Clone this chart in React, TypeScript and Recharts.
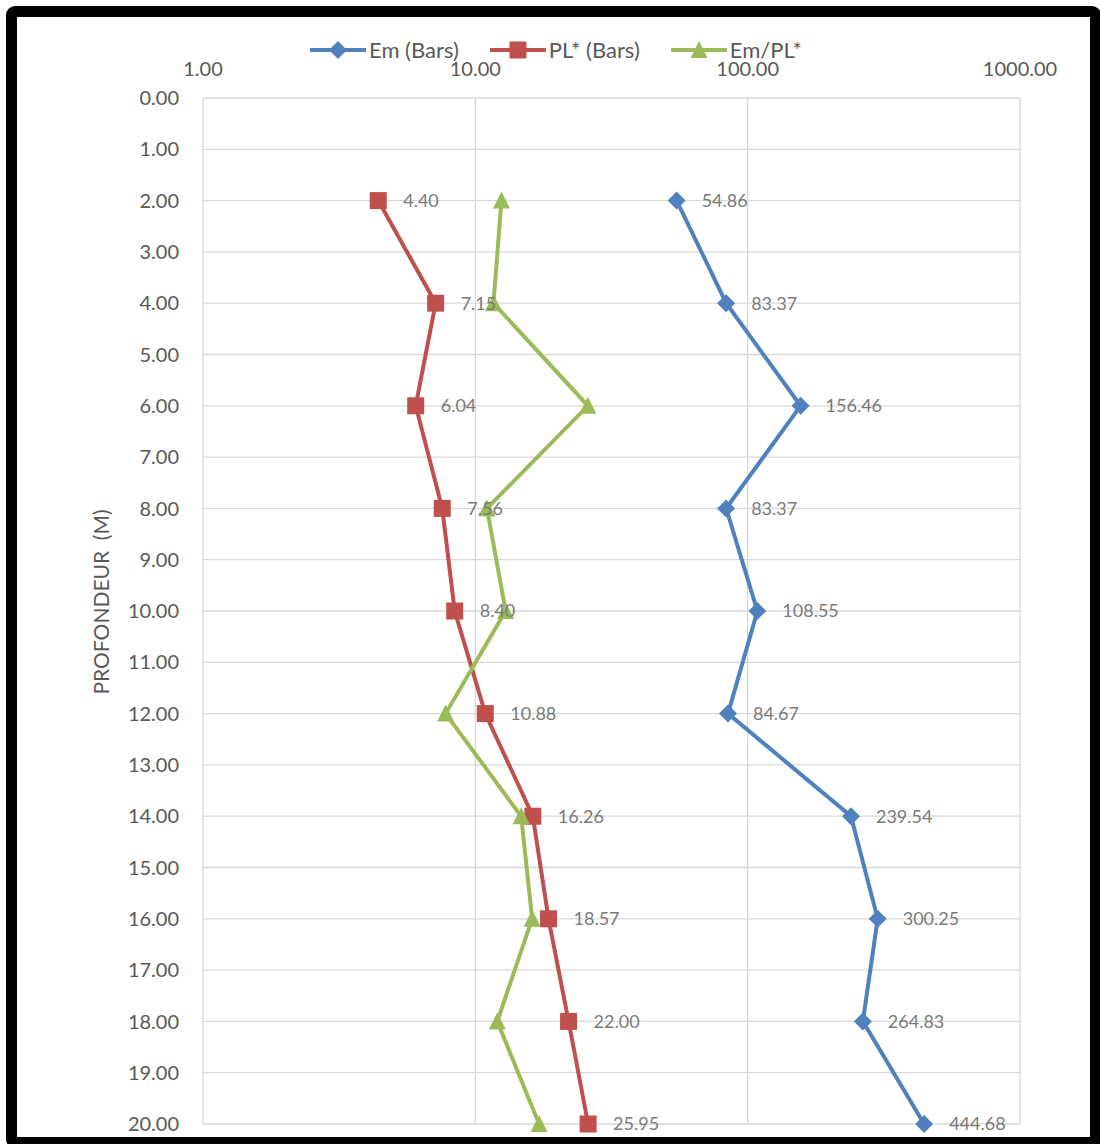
import React from "react"
import { LineChart, Line, XAxis, YAxis, CartesianGrid, Legend, LabelList } from "recharts"

// depth profile (m) and pressuremeter results
const depths = [2, 4, 6, 8, 10, 12, 14, 16, 18, 20]
const emValues = [54.86, 83.37, 156.46, 83.37, 108.55, 84.67, 239.54, 300.25, 264.83, 444.68]
const plValues = [4.4, 7.15, 6.04, 7.56, 8.4, 10.88, 16.26, 18.57, 22.0, 25.95]
const ratioValues = [12.47, 11.66, 25.9, 11.03, 12.92, 7.78, 14.73, 16.17, 12.04, 17.14]

const xTicks = [1, 10, 100, 1000]
const yTicks = [0, 1, 2, 3, 4, 5, 6, 7, 8, 9, 10, 11, 12, 13, 14, 15, 16, 17, 18, 19, 20]

const seriesNames = ["Em (Bars)", "PL* (Bars)", "Em/PL*"]

const BLUE = "#4f81bd"
const RED = "#c0504d"
const GREEN = "#9bbb59"
const FONT = "Lato, 'Open Sans', sans-serif"

const data = depths.map((d, i) => ({
  depth: d,
  em: emValues[i],
  pl: plValues[i],
  ratio: ratioValues[i],
}))

type MarkerKind = "diamond" | "square" | "triangle"

function Marker({ kind, cx, cy, color }: { kind: MarkerKind; cx: number; cy: number; color: string }) {
  if (kind === "diamond") {
    const r = 9
    return <polygon points={`${cx},${cy - r} ${cx + r},${cy} ${cx},${cy + r} ${cx - r},${cy}`} fill={color} />
  }
  if (kind === "square") {
    const s = 17
    return <rect x={cx - s / 2} y={cy - s / 2} width={s} height={s} fill={color} />
  }
  const w = 17
  const h = 16
  return <polygon points={`${cx},${cy - h / 2 - 1} ${cx + w / 2},${cy + h / 2} ${cx - w / 2},${cy + h / 2}`} fill={color} />
}

const dotRenderer = (kind: MarkerKind, color: string) => (props: any) => {
  const { cx, cy, index } = props
  if (cx == null || cy == null) return <g key={`${kind}-${index}`} />
  return <Marker key={`${kind}-${index}`} kind={kind} cx={cx} cy={cy} color={color} />
}

function LegendContent() {
  const items: { name: string; kind: MarkerKind; color: string }[] = [
    { name: seriesNames[0], kind: "diamond", color: BLUE },
    { name: seriesNames[1], kind: "square", color: RED },
    { name: seriesNames[2], kind: "triangle", color: GREEN },
  ]
  return (
    <div style={{ display: "flex", alignItems: "center", fontFamily: FONT, fontSize: 22, color: "#595959", whiteSpace: "nowrap" }}>
      {items.map((it) => (
        <div key={it.name} style={{ display: "flex", alignItems: "center", marginRight: 31 }}>
          <svg width={56} height={20} style={{ marginRight: 3 }}>
            <line x1={1} y1={10} x2={55} y2={10} stroke={it.color} strokeWidth={4} strokeLinecap="round" />
            <Marker kind={it.kind} cx={28} cy={10} color={it.color} />
          </svg>
          <span>{it.name}</span>
        </div>
      ))}
    </div>
  )
}

const valueLabel = (props: any) => {
  const { x, y, value, index } = props
  return (
    <text key={index} x={x + 25} y={y} dy="0.35em" fill="#7a7a7a" fontFamily={FONT} fontSize={18}>
      {Number(value).toFixed(2)}
    </text>
  )
}

export default function App() {
  return (
    <div style={{ position: "absolute", left: 0, top: 0, width: 1100, height: 1144, background: "#fff", overflow: "hidden" }}>
      <div
        style={{
          position: "absolute",
          left: 6,
          top: 6,
          width: 1095,
          height: 1142,
          boxSizing: "border-box",
          border: "11px solid #000",
          borderRadius: 9,
        }}
      />
      <div style={{ position: "absolute", left: 0, top: 0 }}>
        <LineChart
          width={1100}
          height={1144}
          data={data}
          layout="vertical"
          margin={{ top: 58, right: 80, bottom: 20, left: 83 }}
        >
          <CartesianGrid stroke="#d9d9d9" strokeWidth={1.3} />
          <XAxis
            type="number"
            orientation="top"
            scale="log"
            domain={[1, 1000]}
            ticks={xTicks}
            allowDataOverflow
            height={40}
            axisLine={false}
            tickLine={false}
            tickMargin={16}
            tickFormatter={(v: number) => v.toFixed(2)}
            tick={{ fill: "#595959", fontSize: 20, fontFamily: FONT }}
          />
          <YAxis
            type="number"
            dataKey="depth"
            domain={[0, 20]}
            ticks={yTicks}
            interval={0}
            width={120}
            axisLine={false}
            tickLine={false}
            tickMargin={18}
            tickFormatter={(v: number) => v.toFixed(2)}
            tick={{ fill: "#595959", fontSize: 20, fontFamily: FONT }}
            label={{
              content: () => (
                <text
                  x={100}
                  y={602}
                  transform="rotate(-90, 100, 602)"
                  textAnchor="middle"
                  dominantBaseline="central"
                  fill="#595959"
                  fontFamily={FONT}
                  fontSize={21}
                >
                  {"PROFONDEUR\u00a0\u00a0(M)"}
                </text>
              ),
            }}
          />
          <Legend
            verticalAlign="middle"
            layout="horizontal"
            content={<LegendContent />}
            wrapperStyle={{ top: 36, left: 310, width: "auto" }}
          />
          <Line
            dataKey="em"
            name={seriesNames[0]}
            stroke={BLUE}
            strokeWidth={4}
            dot={dotRenderer("diamond", BLUE)}
            isAnimationActive={false}
          >
            <LabelList dataKey="em" content={valueLabel} />
          </Line>
          <Line
            dataKey="pl"
            name={seriesNames[1]}
            stroke={RED}
            strokeWidth={4}
            dot={dotRenderer("square", RED)}
            isAnimationActive={false}
          >
            <LabelList dataKey="pl" content={valueLabel} />
          </Line>
          <Line
            dataKey="ratio"
            name={seriesNames[2]}
            stroke={GREEN}
            strokeWidth={4}
            dot={dotRenderer("triangle", GREEN)}
            isAnimationActive={false}
          />
        </LineChart>
      </div>
    </div>
  )
}
